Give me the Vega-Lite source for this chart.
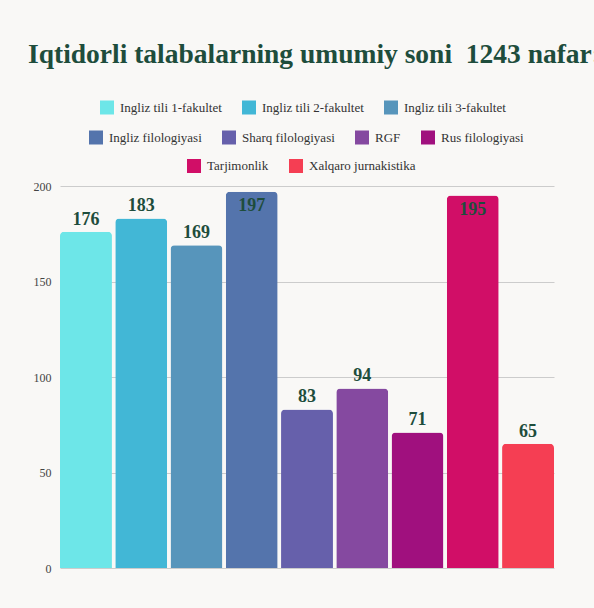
{
  "$schema": "https://vega.github.io/schema/vega-lite/v6.json",
  "width": 494,
  "height": 382,
  "autosize": {"type": "none"},
  "padding": {"left": 60, "top": 186, "right": 40, "bottom": 40},
  "background": "#f9f8f6",
  "title": {
    "text": "Iqtidorli talabalarning umumiy soni\u00a0 1243 nafar:",
    "anchor": "start",
    "frame": "group",
    "font": "Liberation Serif",
    "fontSize": 27.5,
    "fontWeight": "bold",
    "color": "#1e4d3c",
    "dx": -32,
    "dy": -10,
    "offset": 0,
    "baseline": "alphabetic"
  },
  "data": {
    "values": [
      {"name": "Ingliz tili 1-fakultet", "value": 176},
      {"name": "Ingliz tili 2-fakultet", "value": 183},
      {"name": "Ingliz tili 3-fakultet", "value": 169},
      {"name": "Ingliz filologiyasi", "value": 197},
      {"name": "Sharq filologiyasi", "value": 83},
      {"name": "RGF", "value": 94},
      {"name": "Rus filologiyasi", "value": 71},
      {"name": "Tarjimonlik", "value": 195},
      {"name": "Xalqaro jurnakistika", "value": 65}
    ]
  },
  "encoding": {
    "x": {
      "field": "name",
      "type": "nominal",
      "sort": null,
      "scale": {
        "domain": ["Ingliz tili 1-fakultet", "Ingliz tili 2-fakultet", "Ingliz tili 3-fakultet", "Ingliz filologiyasi", "Sharq filologiyasi", "RGF", "Rus filologiyasi", "Tarjimonlik", "Xalqaro jurnakistika"],
        "paddingInner": 0.06,
        "paddingOuter": 0
      },
      "axis": null
    },
    "y": {
      "field": "value",
      "type": "quantitative",
      "scale": {"domain": [0, 200], "nice": false},
      "axis": {
        "title": null,
        "values": [0, 50, 100, 150, 200],
        "ticks": false,
        "domain": false,
        "labelFont": "Liberation Serif",
        "labelFontSize": 12,
        "labelColor": "#444444",
        "labelPadding": 9,
        "gridColor": "#cccccc",
        "gridWidth": 1
      }
    }
  },
  "layer": [
    {
      "transform": [{"filter": {"field": "name", "oneOf": ["Ingliz tili 1-fakultet", "Ingliz tili 2-fakultet", "Ingliz tili 3-fakultet"]}}],
      "mark": {"type": "bar", "cornerRadiusTopLeft": 4, "cornerRadiusTopRight": 4},
      "encoding": {
        "color": {
          "field": "name",
          "type": "nominal",
          "sort": null,
          "scale": {"domain": ["Ingliz tili 1-fakultet", "Ingliz tili 2-fakultet", "Ingliz tili 3-fakultet"], "range": ["#6de6e8", "#42b7d6", "#5795bb"]},
          "legend": {"legendX": 40, "legendY": -85.5, "columns": 3, "labelFont": "Liberation Serif"}
        }
      }
    },
    {
      "transform": [{"filter": {"field": "name", "oneOf": ["Ingliz filologiyasi", "Sharq filologiyasi", "RGF", "Rus filologiyasi"]}}],
      "mark": {"type": "bar", "cornerRadiusTopLeft": 4, "cornerRadiusTopRight": 4},
      "encoding": {
        "color": {
          "field": "name",
          "type": "nominal",
          "sort": null,
          "scale": {"domain": ["Ingliz filologiyasi", "Sharq filologiyasi", "RGF", "Rus filologiyasi"], "range": ["#5474ac", "#6660ab", "#8549a0", "#a0107e"]},
          "legend": {"legendX": 29, "legendY": -55.5, "columns": 4, "labelFont": "Liberation Serif"}
        }
      }
    },
    {
      "transform": [{"filter": {"field": "name", "oneOf": ["Tarjimonlik", "Xalqaro jurnakistika"]}}],
      "mark": {"type": "bar", "cornerRadiusTopLeft": 4, "cornerRadiusTopRight": 4},
      "encoding": {
        "color": {
          "field": "name",
          "type": "nominal",
          "sort": null,
          "scale": {"domain": ["Tarjimonlik", "Xalqaro jurnakistika"], "range": ["#d10e67", "#f53e53"]},
          "legend": {"legendX": 127, "legendY": -27, "columns": 2, "labelFont": "Liberation Serif"}
        }
      }
    },
    {
      "transform": [{"filter": "datum.value < 190"}],
      "mark": {"type": "text", "baseline": "alphabetic", "dy": -7, "font": "Liberation Serif", "fontSize": 18, "fontWeight": "bold", "fill": "#1e4d3c"},
      "encoding": {"text": {"field": "value", "type": "quantitative"}}
    },
    {
      "transform": [{"filter": "datum.value >= 190"}],
      "mark": {"type": "text", "baseline": "alphabetic", "dy": 19, "font": "Liberation Serif", "fontSize": 18, "fontWeight": "bold", "fill": "#1e4d3c"},
      "encoding": {"text": {"field": "value", "type": "quantitative"}}
    }
  ],
  "resolve": {"scale": {"color": "independent"}},
  "config": {
    "font": "Liberation Serif",
    "view": {"stroke": null},
    "axis": {"labelFont": "Liberation Serif"},
    "legend": {
      "orient": "none",
      "direction": "horizontal",
      "title": null,
      "symbolType": "square",
      "symbolSize": 196,
      "symbolStrokeWidth": 0,
      "symbolOpacity": 1,
      "labelFont": "Liberation Serif",
      "labelFontSize": 13,
      "labelColor": "#333333",
      "labelOffset": 6,
      "labelLimit": 0,
      "columnPadding": 20,
      "padding": 0
    }
  }
}
